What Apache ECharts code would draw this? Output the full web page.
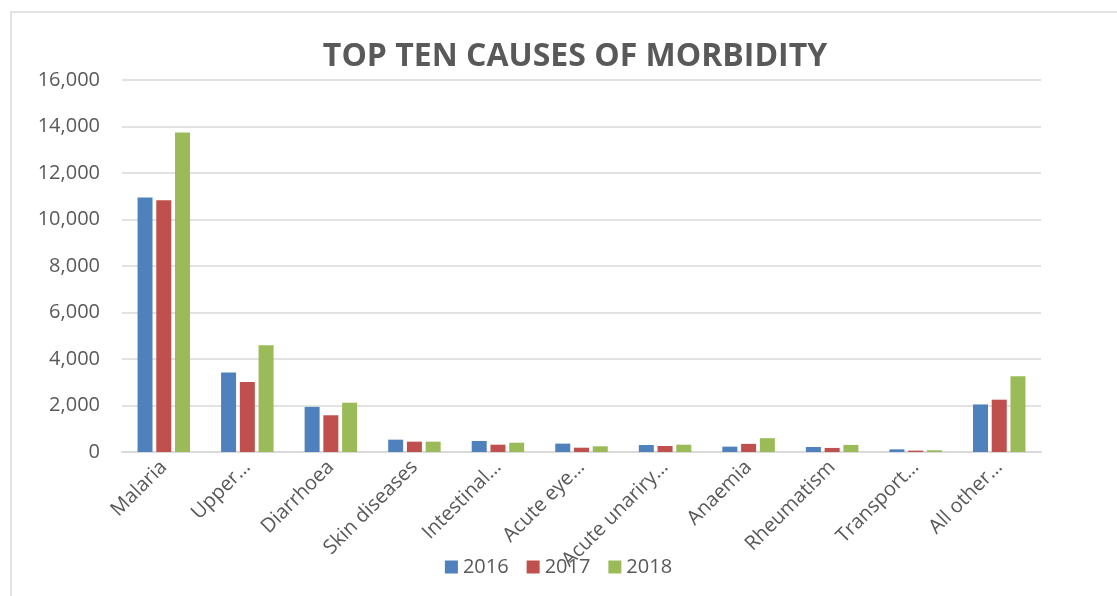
<!DOCTYPE html>
<html><head><meta charset="utf-8">
<script src="https://cdn.jsdelivr.net/npm/echarts@6/dist/echarts.min.js"></script>
<style>html,body{margin:0;padding:0;background:#fff}#c{width:1117px;height:596px}</style>
</head><body><div id="c"></div>
<script>
const categories = ['Malaria','Upper…','Diarrhoea','Skin diseases','Intestinal…','Acute eye…','Acute unariry…','Anaemia','Rheumatism','Transport…','All other…'];
const s2016 = [10950, 3420, 1940, 530, 475, 360, 300, 230, 215, 115, 2045];
const s2017 = [10830, 3010, 1580, 445, 315, 185, 258, 350, 175, 60, 2250];
const s2018 = [13740, 4590, 2120, 445, 400, 245, 315, 595, 305, 75, 3260];
const yTicks = {min: 0, max: 16000, interval: 2000};
const font = 'Open Sans';
const txt = '#595959';
const chart = echarts.init(document.getElementById('c'));
chart.setOption({
  animation: false,
  textStyle: {fontFamily: font},
  graphic: [{type: 'rect', shape: {x: 11, y: 12, width: 1300, height: 800}, style: {fill: 'none', stroke: '#d9d9d9', lineWidth: 1.5}, silent: true}],
  title: {text: 'TOP TEN CAUSES OF MORBIDITY', left: 570, top: 36, textAlign: 'center',
    textStyle: {fontFamily: font, fontWeight: 'bold', fontSize: 32, color: txt}},
  legend: {bottom: 14, left: 'center', itemWidth: 13, itemHeight: 13, itemGap: 18,
    textStyle: {fontSize: 20, color: txt, fontFamily: font}, icon: 'rect'},
  grid: {left: 122, right: 76, top: 80, bottom: 144},
  xAxis: {type: 'category', data: categories,
    axisLine: {lineStyle: {color: '#d9d9d9', width: 2}}, axisTick: {show: false},
    axisLabel: {rotate: 45, fontSize: 20, color: txt, interval: 0, margin: 12}},
  yAxis: {type: 'value', min: yTicks.min, max: yTicks.max, interval: yTicks.interval,
    axisLine: {show: false}, axisTick: {show: false},
    splitLine: {lineStyle: {color: '#d9d9d9', width: 1.5}},
    axisLabel: {fontSize: 20, color: txt, margin: 22,
      formatter: v => v.toLocaleString('en-US')}},
  series: [
    {name: '2016', type: 'bar', data: s2016, barWidth: 15, barGap: '25%', itemStyle: {color: '#4f81bd'}},
    {name: '2017', type: 'bar', data: s2017, barWidth: 15, barGap: '25%', itemStyle: {color: '#c0504d'}},
    {name: '2018', type: 'bar', data: s2018, barWidth: 15, barGap: '25%', itemStyle: {color: '#9bbb59'}}
  ]
});
</script></body></html>
